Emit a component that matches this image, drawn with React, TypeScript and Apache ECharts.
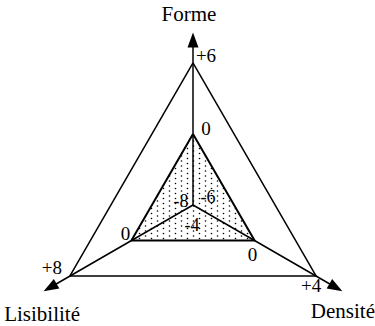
import React, { useEffect, useRef } from 'react';
import * as echarts from 'echarts';

// Axes in radar order (counter-clockwise from the top)
const axisNames = ['Forme', 'Lisibilité', 'Densité'];
const axisLimits = [6, 8, 4];
const outerValues = [6, 8, 4];
const innerValues = [0, 0, 0];
const centerValues = [-6, -8, -4];
const outerLabels = ['+6', '+8', '+4'];
const innerLabels = ['0', '0', '0'];
const centerLabels = ['-6', '-8', '-4'];

// axis line runs a bit past the labelled maximum, up to the arrow head
const axisReach = 1.32;

const FONT = '"Liberation Serif", "Times New Roman", serif';

// label offsets (style only)
const outerOffsets = [[13, -7], [-18, -9], [-5, 9]];
const innerOffsets = [[13, -5], [-6, -7], [-2, 14]];
const centerOffsets = [[15, -8], [-12, -4], [-1, 20]];
const nameOffsets = [[-4, -26], [-8, 26], [7, 23]];

function makeDots(): HTMLCanvasElement {
  const c = document.createElement('canvas');
  c.width = 12;
  c.height = 5;
  const ctx = c.getContext('2d')!;
  ctx.fillStyle = '#000';
  const pts = [[1.5, 1], [7.5, 3.5]];
  pts.forEach(([x, y]) => {
    ctx.beginPath();
    ctx.arc(x, y, 0.8, 0, Math.PI * 2);
    ctx.fill();
  });
  return c;
}

function labelSeries(values: number[], texts: string[], offsets: number[][], dim: number, fontSize: number) {
  const label = {
    show: true,
    position: 'inside',
    offset: offsets[dim],
    color: '#000',
    fontFamily: FONT,
    fontSize,
    formatter: (p: any) => (p.dimensionIndex === dim ? texts[dim] : ''),
  };
  return {
    type: 'radar',
    silent: true,
    symbol: 'circle',
    symbolSize: 1,
    itemStyle: { color: 'rgba(0,0,0,0)', borderWidth: 0 },
    lineStyle: { width: 0, opacity: 0 },
    label,
    data: [{ value: values, label }],
    z: 5,
  };
}

export default function App() {
  const ref = useRef<HTMLDivElement>(null);
  useEffect(() => {
    if (!ref.current) return;
    const chart = echarts.init(ref.current, undefined, { renderer: 'svg' });
    const axisMax = axisLimits.map((l) => l * axisReach);
    const series: any[] = [
      {
        type: 'radar',
        silent: true,
        symbol: 'none',
        lineStyle: { color: '#000', width: 1.5 },
        data: [{ value: outerValues }],
        z: 3,
      },
      {
        type: 'radar',
        silent: true,
        symbol: 'none',
        lineStyle: { color: '#000', width: 2 },
        areaStyle: { color: { image: makeDots(), repeat: 'repeat' }, opacity: 1 },
        data: [{ value: innerValues }],
        z: 3,
      },
    ];
    for (let d = 0; d < axisNames.length; d++) {
      series.push(labelSeries(outerValues, outerLabels, outerOffsets, d, 19));
      series.push(labelSeries(innerValues, innerLabels, innerOffsets, d, 19));
      series.push(labelSeries(centerValues, centerLabels, centerOffsets, d, 18));
      series.push(labelSeries(axisMax, axisNames, nameOffsets, d, 21));
    }
    chart.setOption({
      animation: false,
      backgroundColor: '#fff',
      radar: {
        center: [193, 205],
        radius: 165,
        startAngle: 90,
        shape: 'polygon',
        splitNumber: 1,
        indicator: axisNames.map((n, i) => ({ name: n, min: -axisLimits[i], max: axisMax[i] })),
        axisName: { show: false },
        splitLine: { show: false },
        splitArea: { show: false },
        axisTick: { show: false },
        axisLabel: { show: false },
        axisLine: {
          show: true,
          lineStyle: { color: '#000', width: 1.5 },
          symbol: ['none', 'triangle'],
          symbolSize: [11, 15],
        },
      },
      series,
    });
    return () => chart.dispose();
  }, []);
  return (
    <div
      ref={ref}
      style={{ position: 'absolute', left: 0, top: 0, width: 375, height: 326, background: '#fff' }}
    />
  );
}
